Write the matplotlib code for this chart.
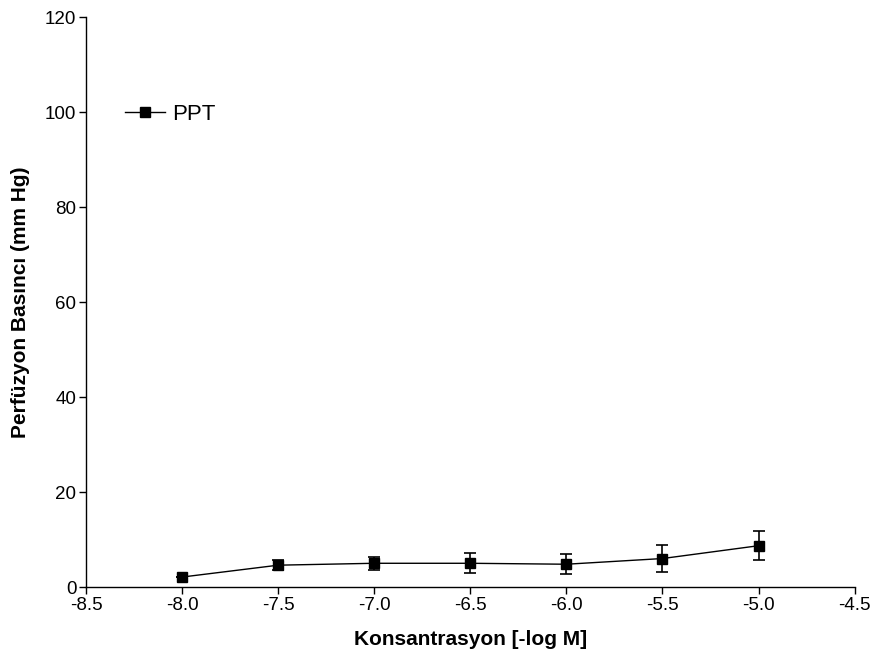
import numpy as np
import matplotlib
matplotlib.use('Agg')
import matplotlib.pyplot as plt

plt.rcParams['font.family'] = ['Liberation Sans', 'DejaVu Sans']

conc = [-8.0, -7.5, -7.0, -6.5, -6.0, -5.5, -5.0]
ppt = [2.1, 4.6, 5.0, 5.0, 4.8, 6.0, 8.7]
ppt_err = [0.0, 1.1, 1.4, 2.1, 2.1, 2.8, 3.0]

x_ticks = [-8.5, -8.0, -7.5, -7.0, -6.5, -6.0, -5.5, -5.0, -4.5]
y_ticks = [0, 20, 40, 60, 80, 100, 120]

fig = plt.figure(figsize=(8.73, 6.57), dpi=100)
ax = fig.add_axes([0.0985, 0.1065, 0.8805, 0.8675])

ax.errorbar(conc, ppt, yerr=ppt_err, fmt='-s', color='black',
            markersize=7, linewidth=1, elinewidth=1.2, capsize=4,
            capthick=1.2, label='PPT')

ax.set_xlim(-8.5, -4.5)
ax.set_ylim(0, 120)
ax.set_xticks(x_ticks)
ax.set_xticklabels(['{0:.1f}'.format(v) for v in x_ticks])
ax.set_yticks(y_ticks)
ax.tick_params(labelsize=13.5, direction='out', length=5, width=1, pad=2)
for side in ['top', 'right']:
    ax.spines[side].set_visible(False)
for side in ['left', 'bottom']:
    ax.spines[side].set_linewidth(1)

ax.set_xlabel('Konsantrasyon [-log M]', fontsize=15, fontweight='bold',
              labelpad=12)
ax.set_ylabel('Perfüzyon Basıncı (mm Hg)', fontsize=15, fontweight='bold',
              labelpad=11)

handles, labels = ax.get_legend_handles_labels()
handles = [h[0] for h in handles]
ax.legend(handles, labels, loc='upper left', bbox_to_anchor=(0.025, 0.883),
          frameon=False, fontsize=16, handlelength=1.8, handletextpad=0.3)

fig.savefig('out.png', dpi=100)
